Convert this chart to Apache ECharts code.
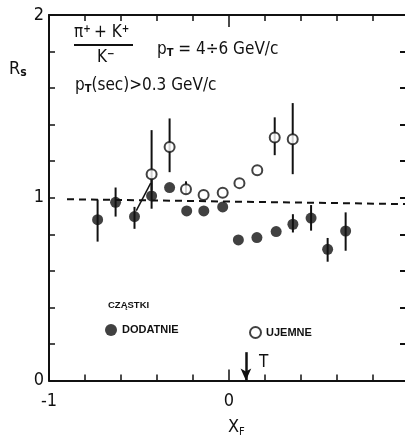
<!DOCTYPE html>
<html><head><meta charset="utf-8">
<script src="https://cdn.jsdelivr.net/npm/echarts@6/dist/echarts.min.js"></script>
<style>html,body{margin:0;padding:0;background:#fff}#c{width:405px;height:442px}</style>
</head><body><div id="c"></div>
<script>
// Positive particles (DODATNIE) – filled circles
const posX  = [-0.73, -0.63, -0.525, -0.43, -0.33, -0.235, -0.14, -0.035, 0.052, 0.155, 0.262, 0.355, 0.456, 0.548, 0.648];
const posY  = [0.88, 0.975, 0.897, 1.01, 1.056, 0.928, 0.928, 0.95, 0.769, 0.782, 0.815, 0.855, 0.889, 0.718, 0.818];
const posLo = [0.76, 0.897, 0.83, 0.94, null, null, null, null, null, null, null, 0.81, 0.82, 0.65, 0.71];
const posHi = [0.99, 1.056, 0.95, 1.10, null, null, null, null, null, null, null, 0.91, 0.96, 0.78, 0.92];
// Negative particles (UJEMNE) – open circles
const negX  = [-0.43, -0.33, -0.239, -0.141, -0.035, 0.058, 0.157, 0.254, 0.354];
const negY  = [1.129, 1.278, 1.047, 1.015, 1.028, 1.08, 1.151, 1.33, 1.32];
const negLo = [1.04, 1.14, 1.02, null, null, null, null, 1.233, 1.129];
const negHi = [1.37, 1.434, 1.09, null, null, null, null, 1.44, 1.518];
// connecting stroke drawn in the original
const joinX = [-0.435, -0.515];
const joinY = [1.08, 0.93];
// dashed reference line R_s = 1 (as drawn)
const refX = [-0.9, 1.0];
const refY = [0.992, 0.965];
// arrow marking threshold T
const arrowX = [0.094];
const arrowTop = [0.155];
// tick labels
const xTickLabels = [-1, 0, 1];
const yTickLabels = [0, 1, 2];

const INK = '#111';
const FONT = '"DejaVu Sans Condensed", "Liberation Sans Narrow", sans-serif';
const LFONT = '"Liberation Sans", Arial, sans-serif';

function errData(xs, lo, hi) {
  const out = [];
  xs.forEach((x, i) => { if (lo[i] != null) out.push([x, lo[i], hi[i]]); });
  return out;
}
function errRender(params, api) {
  const p1 = api.coord([api.value(0), api.value(1)]);
  const p2 = api.coord([api.value(0), api.value(2)]);
  return { type: 'line', shape: { x1: p1[0], y1: p1[1], x2: p2[0], y2: p2[1] },
           style: { stroke: INK, lineWidth: 2 } };
}
const xLabel = v => {
  const r = Math.round(v);
  return (Math.abs(v - r) < 1e-6 && xTickLabels.includes(r)) ? String(r) : '';
};
const yLabel = v => {
  const r = Math.round(v);
  return (Math.abs(v - r) < 1e-6 && yTickLabels.includes(r)) ? String(r) : '';
};

const gridLayout = { left: 49, width: 360, top: 15, height: 365.5, containLabel: false, outerBoundsMode: 'none' };
const chart = echarts.init(document.getElementById('c'));
chart.setOption({
  animation: false,
  backgroundColor: '#fff',
  grid: [Object.assign({}, gridLayout), Object.assign({}, gridLayout)],
  xAxis: [
    { gridIndex: 0, type: 'value', position: 'bottom', min: -1, max: 1, interval: 0.2,
      axisLine: { onZero: false, lineStyle: { color: INK, width: 2 } },
      axisTick: { inside: true, length: 6, lineStyle: { color: INK, width: 1.5 } },
      axisLabel: { formatter: xLabel, color: INK, fontSize: 18, fontFamily: FONT, margin: 12 },
      splitLine: { show: false } },
    { gridIndex: 0, type: 'value', position: 'top', min: -1, max: 1, interval: 0.2,
      axisLine: { onZero: false, lineStyle: { color: INK, width: 2 } },
      axisTick: { inside: true, length: 6, lineStyle: { color: INK, width: 1.5 } },
      axisLabel: { show: false }, splitLine: { show: false } },
    { gridIndex: 1, type: 'value', position: 'bottom', min: -1, max: 1, interval: 1,
      axisLine: { show: false, onZero: false },
      axisTick: { inside: true, length: 11, lineStyle: { color: INK, width: 1.5 } },
      axisLabel: { show: false }, splitLine: { show: false } },
    { gridIndex: 1, type: 'value', position: 'top', min: -1, max: 1, interval: 1,
      axisLine: { show: false, onZero: false },
      axisTick: { inside: true, length: 12, lineStyle: { color: INK, width: 1.5 } },
      axisLabel: { show: false }, splitLine: { show: false } }
  ],
  yAxis: [
    { gridIndex: 0, type: 'value', position: 'left', min: 0, max: 2, interval: 0.2,
      axisLine: { show: true, onZero: false, lineStyle: { color: INK, width: 2 } },
      axisTick: { show: true, inside: true, length: 6, lineStyle: { color: INK, width: 1.5 } },
      axisLabel: { formatter: yLabel, color: INK, fontSize: 18, fontFamily: FONT, margin: 5 },
      splitLine: { show: false } },
    { gridIndex: 0, type: 'value', position: 'right', min: 0, max: 2, interval: 0.2,
      axisLine: { show: true, onZero: false, lineStyle: { color: INK, width: 2 } },
      axisTick: { show: true, inside: true, length: 9, lineStyle: { color: INK, width: 2 } },
      axisLabel: { show: false }, splitLine: { show: false } },
    { gridIndex: 1, type: 'value', min: 0, max: 2, show: false, axisLine: { onZero: false } }
  ],
  legend: [
    { data: ['DODATNIE'], left: 105, top: 324, padding: 0, itemWidth: 12, itemHeight: 12, itemGap: 0,
      textStyle: { color: INK, fontSize: 11, fontWeight: 'bold', fontFamily: LFONT },
      selectedMode: false },
    { data: ['UJEMNE'], left: 249, top: 326, padding: 0, itemWidth: 11, itemHeight: 11, itemGap: 0,
      textStyle: { color: INK, fontSize: 11, fontWeight: 'bold', fontFamily: LFONT },
      selectedMode: false }
  ],
  series: [
    { type: 'line', xAxisIndex: 0, yAxisIndex: 0, data: refX.map((x, i) => [x, refY[i]]),
      symbol: 'none', lineStyle: { color: INK, width: 2, type: [7, 5] }, silent: true, z: 1 },
    { type: 'line', xAxisIndex: 0, yAxisIndex: 0, data: joinX.map((x, i) => [x, joinY[i]]),
      symbol: 'none', lineStyle: { color: INK, width: 1.5 }, silent: true, z: 2 },
    { type: 'custom', name: 'posErr', xAxisIndex: 0, yAxisIndex: 0, renderItem: errRender,
      data: errData(posX, posLo, posHi), z: 2, silent: true },
    { type: 'custom', name: 'negErr', xAxisIndex: 0, yAxisIndex: 0, renderItem: errRender,
      data: errData(negX, negLo, negHi), z: 2, silent: true },
    { type: 'scatter', name: 'DODATNIE', xAxisIndex: 0, yAxisIndex: 0,
      data: posX.map((x, i) => [x, posY[i]]), symbol: 'circle', symbolSize: 11,
      itemStyle: { color: INK }, z: 5,
      markLine: { silent: true, animation: false, symbol: ['none', 'arrow'], symbolSize: [8, 12],
        lineStyle: { color: INK, width: 2.5, type: 'solid' }, label: { show: false },
        data: arrowX.map((x, i) => [{ coord: [x, arrowTop[i]] }, { coord: [x, 0] }]) } },
    { type: 'scatter', name: 'UJEMNE', xAxisIndex: 0, yAxisIndex: 0,
      data: negX.map((x, i) => [x, negY[i]]), symbol: 'circle', symbolSize: 10,
      itemStyle: { color: '#fff', borderColor: INK, borderWidth: 2 }, z: 6 }
  ],
  graphic: [
    { type: 'text', left: 9, top: 60, style: { rich: { m: { fontSize: 18, fontFamily: FONT, fill: INK }, s: { fontSize: 12, fontFamily: FONT, fill: INK, fontWeight: 'bold', padding: [8, 0, 0, 0] } }, text: '{m|R}{s|s}' } },
    { type: 'text', left: 74, top: 24, style: { rich: { m: { fontSize: 17, fontFamily: FONT, fill: INK }, p: { fontSize: 10, fontFamily: FONT, fill: INK, fontWeight: 'bold', padding: [0, 0, 8, 0] } }, text: '{m|\u03c0}{p|+} {m|+ K}{p|+}' } },
    { type: 'line', shape: { x1: 74, y1: 45, x2: 133, y2: 45 }, style: { stroke: INK, lineWidth: 2 } },
    { type: 'text', left: 97, top: 49, style: { rich: { m: { fontSize: 17, fontFamily: FONT, fill: INK }, p: { fontSize: 10, fontFamily: FONT, fill: INK, fontWeight: 'bold', padding: [0, 0, 8, 0] } }, text: '{m|K}{p|\u2212}' } },
    { type: 'text', left: 157, top: 41, style: { rich: { m: { fontSize: 17, fontFamily: FONT, fill: INK }, s: { fontSize: 11, fontFamily: FONT, fill: INK, fontWeight: 'bold', padding: [8, 0, 0, 0] } }, text: '{m|p}{s|T}{m| = 4\u00f76 GeV/c}' } },
    { type: 'text', left: 75, top: 77, style: { rich: { m: { fontSize: 17, fontFamily: FONT, fill: INK }, s: { fontSize: 11, fontFamily: FONT, fill: INK, fontWeight: 'bold', padding: [8, 0, 0, 0] } }, text: '{m|p}{s|T}{m|(sec)>0.3 GeV/c}' } },
    { type: 'text', left: 108, top: 300, style: { text: 'CZĄSTKI', fontSize: 9.5, fontWeight: 'bold', fontFamily: LFONT, fill: INK } },
    { type: 'text', left: 259, top: 354, style: { text: 'T', fontSize: 17, fontFamily: FONT, fill: INK } },
    { type: 'text', left: 228, top: 418, style: { rich: { m: { fontSize: 18, fontFamily: FONT, fill: INK }, s: { fontSize: 11, fontFamily: FONT, fill: INK, padding: [10, 0, 0, 0] } }, text: '{m|X}{s|F}' } }
  ]
});
</script></body></html>
